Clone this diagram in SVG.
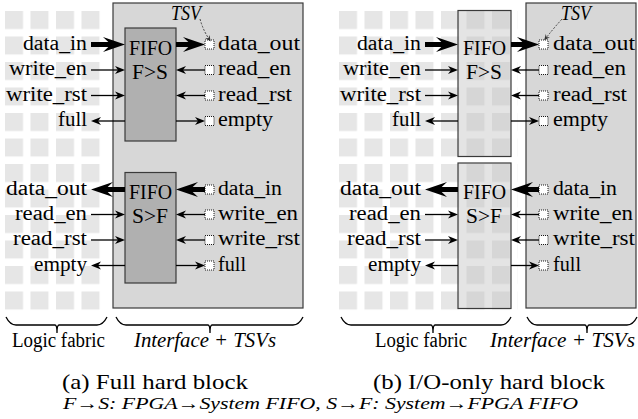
<svg xmlns="http://www.w3.org/2000/svg" width="638" height="419" viewBox="0 0 638 419">
  <style>
    text { font-family: "Liberation Serif", "Times New Roman", serif; fill: #000; }
    .lbl { font-size: 20px; }
    .it { font-style: italic; }
    .cap { font-size: 22px; }
    .outer { fill: #d7d7d7; stroke: #3a3a3a; stroke-width: 1.2; }
    .fifoA { fill: #b0b0b0; stroke: #3a3a3a; stroke-width: 1.2; }
    .fifoB { fill: #c4c4c4; fill-opacity: 0.45; stroke: #3a3a3a; stroke-width: 1.2; }
    .tsv { fill: #fff; stroke: #000; stroke-width: 0.9; stroke-dasharray: 1 1; }
    .thin { stroke: #000; stroke-width: 1.3; fill: none; marker-end: url(#ah); }
    .thick { stroke: #000; stroke-width: 5; fill: none; marker-end: url(#AH); }
    .tsvptr { stroke: #333; stroke-width: 0.9; stroke-dasharray: 2 1.5; fill: none; marker-end: url(#ahs); }
    .brace { stroke: #000; stroke-width: 1.3; fill: none; }
  </style>
  <defs>
    <pattern id="gridA" patternUnits="userSpaceOnUse" x="5" y="11" width="25.5" height="25.5">
      <rect width="18" height="18" fill="#e6e6e6"/>
    </pattern>
    <pattern id="gridB" patternUnits="userSpaceOnUse" x="339" y="11" width="25.5" height="25.5">
      <rect width="18" height="18" fill="#e6e6e6"/>
    </pattern>
    <marker id="ah" markerUnits="userSpaceOnUse" viewBox="-11 -5 12 10" refX="-6" refY="0" markerWidth="12" markerHeight="10" orient="auto">
      <path d="M0,0 L-10,-4 L-7,0 L-10,4 Z" fill="#000"/>
    </marker>
    <marker id="AH" markerUnits="userSpaceOnUse" viewBox="-23 -8 24 16" refX="-12" refY="0" markerWidth="24" markerHeight="16" orient="auto">
      <path d="M0,0 L-22,-7.5 L-14,0 L-22,7.5 Z" fill="#000"/>
    </marker>
    <marker id="ahs" markerUnits="userSpaceOnUse" viewBox="-7 -4 8 8" refX="-3" refY="0" markerWidth="8" markerHeight="8" orient="auto">
      <path d="M0,0 L-6,-2.6 L-4,0 L-6,2.6 Z" fill="#333"/>
    </marker>
  </defs>

  <!-- logic fabric tiles -->
  <g id="fabric">
    <rect x="5" y="11" width="102" height="306" fill="url(#gridA)"/>
    <rect x="339" y="11" width="178.5" height="306" fill="url(#gridB)"/>
  </g>

  <!-- (a) full hard block -->
  <g id="a-interface">
    <rect class="outer" x="113" y="3" width="190" height="305"/>
  </g>
  <g id="a-fifo-fs">
    <rect class="fifoA" x="125" y="28" width="51" height="113"/>
    <text class="lbl" x="129" y="54.5" textLength="43" lengthAdjust="spacingAndGlyphs">FIFO</text>
    <text class="lbl" x="132" y="79" textLength="36" lengthAdjust="spacingAndGlyphs">F&gt;S</text>
  </g>
  <g id="a-fifo-sf">
    <rect class="fifoA" x="125" y="172.5" width="51" height="110.5"/>
    <text class="lbl" x="129" y="198.5" textLength="43" lengthAdjust="spacingAndGlyphs">FIFO</text>
    <text class="lbl" x="132" y="223" textLength="36" lengthAdjust="spacingAndGlyphs">S&gt;F</text>
  </g>

  <!-- (b) I/O-only hard block -->
  <g id="b-interface">
    <rect class="outer" x="526" y="3" width="110" height="305"/>
  </g>
  <g id="b-fifo-fs">
    <rect class="fifoB" x="458" y="10.5" width="53" height="146"/>
    <text class="lbl" x="463" y="54.5" textLength="43" lengthAdjust="spacingAndGlyphs">FIFO</text>
    <text class="lbl" x="466" y="79" textLength="36" lengthAdjust="spacingAndGlyphs">F&gt;S</text>
  </g>
  <g id="b-fifo-sf">
    <rect class="fifoB" x="458" y="163" width="53" height="145.5"/>
    <text class="lbl" x="463" y="198.5" textLength="43" lengthAdjust="spacingAndGlyphs">FIFO</text>
    <text class="lbl" x="466" y="223" textLength="36" lengthAdjust="spacingAndGlyphs">S&gt;F</text>
  </g>

  <!-- TSV pads -->
  <g id="tsv-pads">
    <rect class="tsv" x="205" y="40" width="9" height="9"/>
    <rect class="tsv" x="205" y="65.5" width="9" height="9"/>
    <rect class="tsv" x="205" y="91" width="9" height="9"/>
    <rect class="tsv" x="205" y="116.5" width="9" height="9"/>
    <rect class="tsv" x="205" y="185" width="9" height="9"/>
    <rect class="tsv" x="205" y="210" width="9" height="9"/>
    <rect class="tsv" x="205" y="235.5" width="9" height="9"/>
    <rect class="tsv" x="205" y="261" width="9" height="9"/>
    <rect class="tsv" x="539" y="40" width="9" height="9"/>
    <rect class="tsv" x="539" y="65.5" width="9" height="9"/>
    <rect class="tsv" x="539" y="91" width="9" height="9"/>
    <rect class="tsv" x="539" y="116.5" width="9" height="9"/>
    <rect class="tsv" x="539" y="185" width="9" height="9"/>
    <rect class="tsv" x="539" y="210" width="9" height="9"/>
    <rect class="tsv" x="539" y="235.5" width="9" height="9"/>
    <rect class="tsv" x="539" y="261" width="9" height="9"/>
  </g>

  <!-- signal connectors -->
  <g id="connectors">
    <!-- (a) fabric side -->
    <path class="thick" d="M91,44.5 H113"/>
    <path class="thin" d="M91,70 H119"/>
    <path class="thin" d="M91,95.5 H119"/>
    <path class="thin" d="M125,121 H97"/>
    <path class="thick" d="M125,189.5 H103"/>
    <path class="thin" d="M91,214.5 H119"/>
    <path class="thin" d="M91,240 H119"/>
    <path class="thin" d="M125,265.5 H97"/>
    <!-- (a) TSV side -->
    <path class="thick" d="M176,44.5 H193"/>
    <path class="thin" d="M205,70 H182"/>
    <path class="thin" d="M205,95.5 H182"/>
    <path class="thin" d="M176,121 H199"/>
    <path class="thick" d="M205,189.5 H188"/>
    <path class="thin" d="M205,214.5 H182"/>
    <path class="thin" d="M205,240 H182"/>
    <path class="thin" d="M176,265.5 H199"/>
    <!-- (b) fabric side -->
    <path class="thick" d="M425,44.5 H446"/>
    <path class="thin" d="M425,70 H452"/>
    <path class="thin" d="M425,95.5 H452"/>
    <path class="thin" d="M458,121 H431"/>
    <path class="thick" d="M458,189.5 H437"/>
    <path class="thin" d="M425,214.5 H452"/>
    <path class="thin" d="M425,240 H452"/>
    <path class="thin" d="M458,265.5 H431"/>
    <!-- (b) TSV side -->
    <path class="thick" d="M511,44.5 H527"/>
    <path class="thin" d="M539,70 H517"/>
    <path class="thin" d="M539,95.5 H517"/>
    <path class="thin" d="M511,121 H533"/>
    <path class="thick" d="M539,189.5 H523"/>
    <path class="thin" d="M539,214.5 H517"/>
    <path class="thin" d="M539,240 H517"/>
    <path class="thin" d="M511,265.5 H533"/>
    <!-- TSV callouts -->
    <path class="tsvptr" d="M200,19 Q203,30 209,39"/>
    <path class="tsvptr" d="M562,19 Q553,29 546,38"/>
  </g>

  <!-- port labels -->
  <g id="labels-a">
    <text class="lbl" x="23" y="49.5" textLength="64" lengthAdjust="spacingAndGlyphs">data_in</text>
    <text class="lbl" x="9" y="75" textLength="78" lengthAdjust="spacingAndGlyphs">write_en</text>
    <text class="lbl" x="6" y="100.5" textLength="81" lengthAdjust="spacingAndGlyphs">write_rst</text>
    <text class="lbl" x="58" y="126" textLength="29" lengthAdjust="spacingAndGlyphs">full</text>
    <text class="lbl" x="6" y="194.5" textLength="81" lengthAdjust="spacingAndGlyphs">data_out</text>
    <text class="lbl" x="15" y="219.5" textLength="72" lengthAdjust="spacingAndGlyphs">read_en</text>
    <text class="lbl" x="13" y="245" textLength="74" lengthAdjust="spacingAndGlyphs">read_rst</text>
    <text class="lbl" x="34" y="270.5" textLength="53" lengthAdjust="spacingAndGlyphs">empty</text>
    <text class="lbl" x="218" y="49.5" textLength="82" lengthAdjust="spacingAndGlyphs">data_out</text>
    <text class="lbl" x="218" y="75" textLength="73" lengthAdjust="spacingAndGlyphs">read_en</text>
    <text class="lbl" x="218" y="100.5" textLength="74" lengthAdjust="spacingAndGlyphs">read_rst</text>
    <text class="lbl" x="218" y="126" textLength="55" lengthAdjust="spacingAndGlyphs">empty</text>
    <text class="lbl" x="218" y="194.5" textLength="64" lengthAdjust="spacingAndGlyphs">data_in</text>
    <text class="lbl" x="218" y="219.5" textLength="80" lengthAdjust="spacingAndGlyphs">write_en</text>
    <text class="lbl" x="218" y="245" textLength="82" lengthAdjust="spacingAndGlyphs">write_rst</text>
    <text class="lbl" x="218" y="270.5" textLength="28" lengthAdjust="spacingAndGlyphs">full</text>
    <text class="lbl it" x="171" y="20" textLength="30" lengthAdjust="spacingAndGlyphs">TSV</text>
  </g>
  <g id="labels-b">
    <text class="lbl" x="357" y="49.5" textLength="64" lengthAdjust="spacingAndGlyphs">data_in</text>
    <text class="lbl" x="343" y="75" textLength="78" lengthAdjust="spacingAndGlyphs">write_en</text>
    <text class="lbl" x="340" y="100.5" textLength="81" lengthAdjust="spacingAndGlyphs">write_rst</text>
    <text class="lbl" x="392" y="126" textLength="29" lengthAdjust="spacingAndGlyphs">full</text>
    <text class="lbl" x="340" y="194.5" textLength="81" lengthAdjust="spacingAndGlyphs">data_out</text>
    <text class="lbl" x="349" y="219.5" textLength="72" lengthAdjust="spacingAndGlyphs">read_en</text>
    <text class="lbl" x="347" y="245" textLength="74" lengthAdjust="spacingAndGlyphs">read_rst</text>
    <text class="lbl" x="368" y="270.5" textLength="53" lengthAdjust="spacingAndGlyphs">empty</text>
    <text class="lbl" x="553" y="49.5" textLength="82" lengthAdjust="spacingAndGlyphs">data_out</text>
    <text class="lbl" x="553" y="75" textLength="73" lengthAdjust="spacingAndGlyphs">read_en</text>
    <text class="lbl" x="553" y="100.5" textLength="74" lengthAdjust="spacingAndGlyphs">read_rst</text>
    <text class="lbl" x="553" y="126" textLength="55" lengthAdjust="spacingAndGlyphs">empty</text>
    <text class="lbl" x="553" y="194.5" textLength="64" lengthAdjust="spacingAndGlyphs">data_in</text>
    <text class="lbl" x="553" y="219.5" textLength="80" lengthAdjust="spacingAndGlyphs">write_en</text>
    <text class="lbl" x="553" y="245" textLength="82" lengthAdjust="spacingAndGlyphs">write_rst</text>
    <text class="lbl" x="553" y="270.5" textLength="28" lengthAdjust="spacingAndGlyphs">full</text>
    <text class="lbl it" x="561" y="20" textLength="30" lengthAdjust="spacingAndGlyphs">TSV</text>
  </g>

  <!-- region braces -->
  <g id="braces">
    <path class="brace" d="M6,317 Q10,325 16,325 H55 Q57,325 57,333 Q57,325 59,325 H97 Q103,325 107,317"/>
    <path class="brace" d="M116,317 Q120,325 126,325 H208 Q210,325 210,333 Q210,325 212,325 H293 Q299,325 303,317"/>
    <path class="brace" d="M341,317 Q345,325 351,325 H431 Q433,325 433,333 Q433,325 435,325 H501 Q507,325 511,317"/>
    <path class="brace" d="M527,317 Q531,325 537,325 H585 Q587,325 587,333 Q587,325 589,325 H627 Q633,325 637,317"/>
    <text class="lbl" x="12" y="347" textLength="93" lengthAdjust="spacingAndGlyphs">Logic fabric</text>
    <text class="lbl it" x="134" y="347" textLength="142" lengthAdjust="spacingAndGlyphs">Interface + TSVs</text>
    <text class="lbl" x="375" y="347" textLength="92" lengthAdjust="spacingAndGlyphs">Logic fabric</text>
    <text class="lbl it" x="490" y="347" textLength="145" lengthAdjust="spacingAndGlyphs">Interface + TSVs</text>
  </g>

  <!-- captions -->
  <g id="captions">
    <text class="cap" x="62" y="389" textLength="186" lengthAdjust="spacingAndGlyphs">(a) Full hard block</text>
    <text class="cap" x="373" y="389" textLength="232" lengthAdjust="spacingAndGlyphs">(b) I/O-only hard block</text>
    <text class="cap it" x="63" y="408.5" style="font-size:17.5px" textLength="515" lengthAdjust="spacingAndGlyphs">F→S: FPGA→System FIFO, S→F: System→FPGA FIFO</text>
  </g>
</svg>
